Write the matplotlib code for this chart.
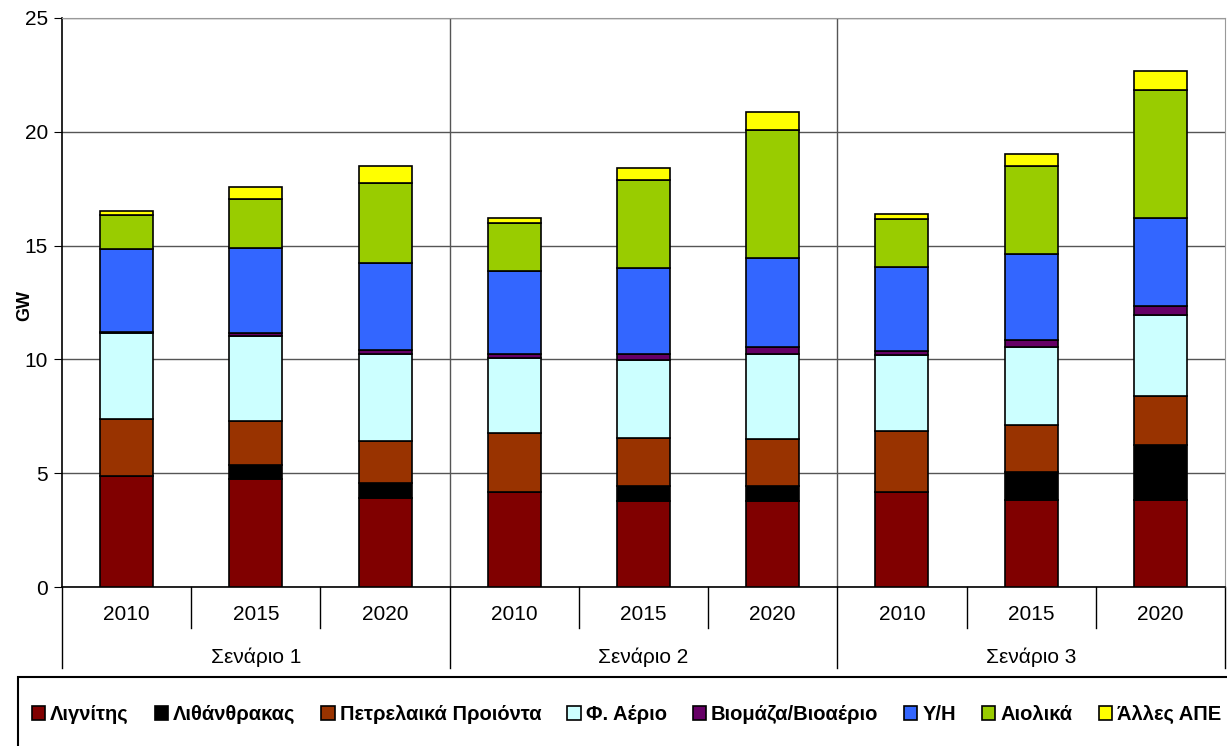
import matplotlib
matplotlib.use('Agg')
import matplotlib.pyplot as plt
from matplotlib.patches import Rectangle
import numpy as np

plt.rcParams['font.family'] = ['Liberation Sans', 'DejaVu Sans']

years = ['2010', '2015', '2020']
scenarios = ['Σενάριο 1', 'Σενάριο 2', 'Σενάριο 3']

# GW per fuel, order: S1 2010/2015/2020, S2 ..., S3 ...
lignite = [4.88, 4.73, 3.90, 4.19, 3.79, 3.79, 4.17, 3.82, 3.82]
coal = [0.0, 0.63, 0.66, 0.0, 0.66, 0.66, 0.0, 1.23, 2.42]
oil = [2.51, 1.95, 1.85, 2.59, 2.08, 2.05, 2.70, 2.09, 2.17]
gas = [3.76, 3.72, 3.83, 3.27, 3.44, 3.72, 3.31, 3.42, 3.55]
biomass = [0.05, 0.12, 0.17, 0.19, 0.27, 0.34, 0.19, 0.31, 0.39]
hydro = [3.65, 3.73, 3.81, 3.66, 3.79, 3.91, 3.70, 3.77, 3.88]
wind = [1.49, 2.18, 3.53, 2.11, 3.85, 5.60, 2.09, 3.85, 5.59]
other_res = [0.19, 0.53, 0.75, 0.20, 0.54, 0.80, 0.21, 0.54, 0.83]

series = [lignite, coal, oil, gas, biomass, hydro, wind, other_res]
names = ['Λιγνίτης', 'Λιθάνθρακας', 'Πετρελαικά Προιόντα', 'Φ. Αέριο',
         'Βιομάζα/Βιοαέριο', 'Υ/Η', 'Αιολικά', 'Άλλες ΑΠΕ']
colors = ['#800000', '#000000', '#993300', '#CCFFFF',
          '#660066', '#3366FF', '#99CC00', '#FFFF00']

fig = plt.figure(figsize=(12.27, 7.46), dpi=100)
ax = fig.add_axes([0.0505, 0.2131, 0.9479, 0.7628])

x = np.arange(len(lignite))
bottom = np.zeros(len(x))
handles = []
for vals, name, col in zip(series, names, colors):
    b = ax.bar(x, vals, 0.41, bottom=bottom, color=col, edgecolor='black',
               linewidth=1.2, label=name, zorder=3)
    handles.append(b)
    bottom += np.array(vals)

ax.set_xlim(-0.5, len(x) - 0.5)
ax.set_ylim(0, 25)
ax.set_yticks(np.arange(0, 26, 5))
ax.tick_params(axis='y', direction='out', length=6, labelsize=15, pad=4)
ax.set_xticks([])
ax.yaxis.grid(True, color='#555555', linewidth=1.0, zorder=0)

for s in ['top', 'right']:
    ax.spines[s].set_color('#999999')
ax.spines['left'].set_linewidth(1.2)
ax.spines['bottom'].set_linewidth(1.2)

# scenario separators inside plot
for g in [2.5, 5.5]:
    ax.axvline(g, color='#555555', linewidth=1.0, zorder=1)

# multi-level category axis
tr = ax.get_xaxis_transform()
for i in range(len(x)):
    ax.text(i, -0.049, years[i % 3], transform=tr, ha='center', va='center', fontsize=15)
for k in range(1, len(x)):
    if k % 3 != 0:
        ax.plot([k - 0.5, k - 0.5], [0, -0.072], transform=tr, color='black',
                linewidth=1.0, clip_on=False)
for k in range(0, len(x) + 1, 3):
    ax.plot([k - 0.5, k - 0.5], [0, -0.142], transform=tr, color='black',
            linewidth=1.0, clip_on=False)
for j, sc in enumerate(scenarios):
    ax.text(3 * j + 1, -0.123, sc, transform=tr, ha='center', va='center', fontsize=15)

fig.text(0.02, 0.59, 'GW', rotation=90, ha='center', va='center',
         fontsize=13, fontweight='bold')

# legend box
fig.patches.append(Rectangle((0.0147, -0.02), 1.0, 0.1125, transform=fig.transFigure,
                             fill=False, edgecolor='black', linewidth=1.5))
leg = fig.legend(handles=handles, loc='center', bbox_to_anchor=(0.5106, 0.042),
                 ncol=8, frameon=False, handlelength=0.65, handleheight=0.65,
                 handletextpad=0.25, columnspacing=1.3,
                 prop={'size': 14.5, 'weight': 'bold'})

fig.savefig('out.png', dpi=100)
